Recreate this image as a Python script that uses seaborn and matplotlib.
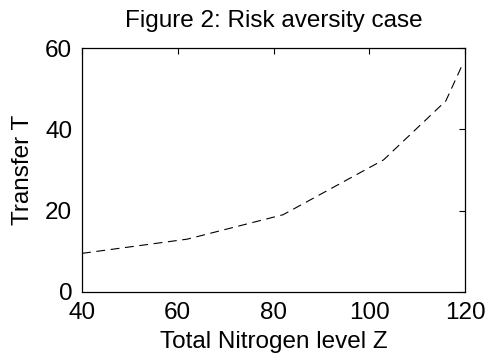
import matplotlib
matplotlib.use("Agg")
import matplotlib.pyplot as plt
import seaborn as sns
import pandas as pd

# Data
nitrogen_z = [40, 62, 82, 103, 116, 119.3]
transfer_t = [9.5, 13.0, 19.0, 32.5, 47.0, 55.5]
x_ticks = [40, 60, 80, 100, 120]
y_ticks = [0, 20, 40, 60]

sns.set_theme(style="white")
plt.rcParams['font.family'] = ['Liberation Sans', 'DejaVu Sans']

df = pd.DataFrame({"Z": nitrogen_z, "T": transfer_t})

fig = plt.figure(figsize=(4.9, 3.64), dpi=100)
ax = fig.add_axes([82 / 490, 1 - 292 / 364, 383 / 490, 244 / 364])

sns.lineplot(data=df, x="Z", y="T", ax=ax, color="black", linewidth=0.8,
             linestyle=(0, (8, 5)), sort=False, estimator=None)

ax.set_xlim(40, 120)
ax.set_ylim(0, 60)
ax.set_xticks(x_ticks)
ax.set_yticks(y_ticks)
ax.tick_params(direction="in", length=4, width=0.8, top=True, right=True,
               labelsize=17.5, colors="black", pad=7)
for s in ax.spines.values():
    s.set_color("black")
    s.set_linewidth(0.9)

ax.set_xlabel("Total Nitrogen level Z", fontsize=17.5, color="black", labelpad=5)
ax.set_ylabel("Transfer T", fontsize=17.5, color="black", labelpad=8)
ax.set_title("Figure 2: Risk aversity case", fontsize=17.5, color="black", pad=15)

fig.savefig("out.png", dpi=100, facecolor="white")
